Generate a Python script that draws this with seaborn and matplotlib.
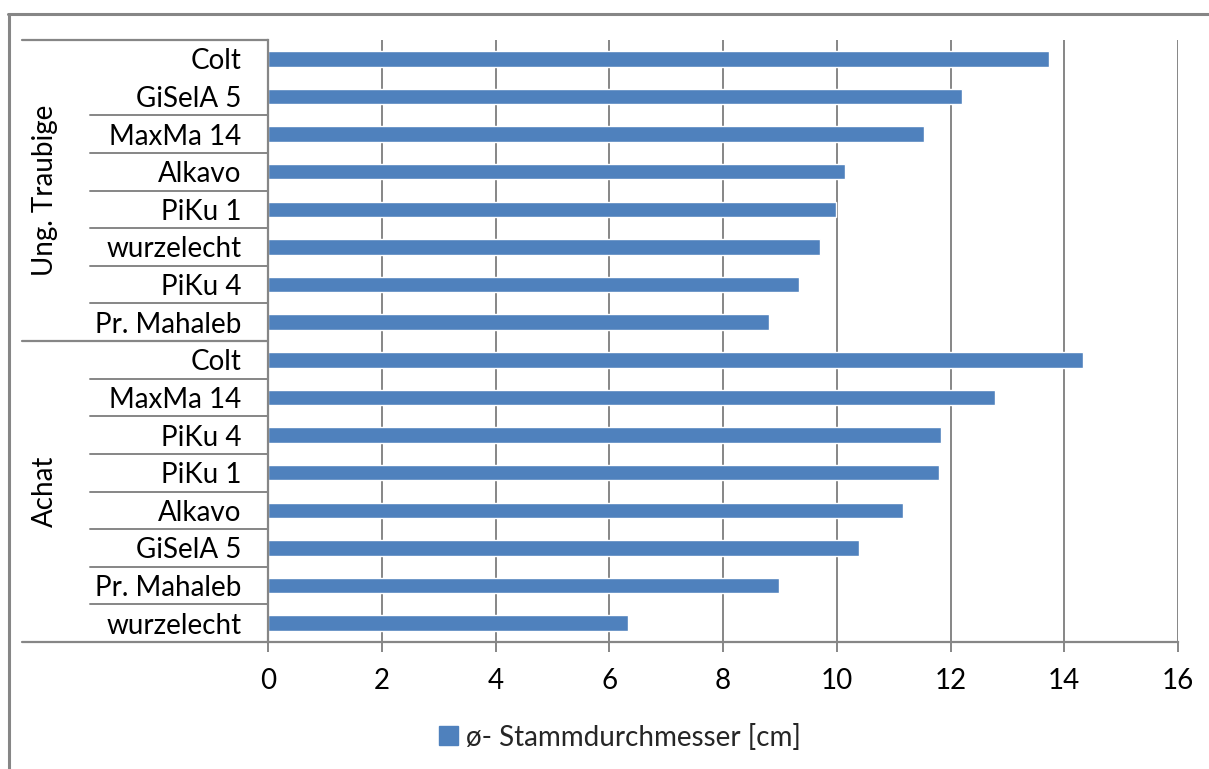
import matplotlib
matplotlib.use('Agg')
import matplotlib.pyplot as plt
import matplotlib.transforms as mtransforms
from matplotlib.lines import Line2D
from matplotlib.patches import Patch
import seaborn as sns
import pandas as pd

# ---- data (top to bottom) ----
groups = ["Ung. Traubige"] * 8 + ["Achat"] * 8
rootstocks = ["Colt", "GiSelA 5", "MaxMa 14", "Alkavo", "PiKu 1", "wurzelecht", "PiKu 4", "Pr. Mahaleb",
              "Colt", "MaxMa 14", "PiKu 4", "PiKu 1", "Alkavo", "GiSelA 5", "Pr. Mahaleb", "wurzelecht"]
values = [13.74, 12.21, 11.54, 10.15, 9.98, 9.70, 9.33, 8.80,
          14.33, 12.79, 11.83, 11.79, 11.17, 10.39, 8.98, 6.33]
group_names = ["Ung. Traubige", "Achat"]
legend_label = "ø- Stammdurchmesser [cm]"
xticks = [0, 2, 4, 6, 8, 10, 12, 14, 16]

BAR = "#4F81BD"
GRAY = "#868686"

sns.set_theme(style="white")
plt.rcParams['font.family'] = ['Lato', 'DejaVu Sans']
FS = 20

W, H = 1209, 769
fig = plt.figure(figsize=(W / 100, H / 100), dpi=100)
fig.patch.set_facecolor("white")

def fx(px):
    return px / W

def fy(py):
    return 1 - py / H

ax = fig.add_axes([fx(268), fy(642), fx(1178) - fx(268), fy(40) - fy(642)])

df = pd.DataFrame({
    "key": [f"{g}|{r}" for g, r in zip(groups, rootstocks)],
    "value": values,
})
sns.barplot(data=df, x="value", y="key", orient="h", color=BAR, saturation=1,
            width=0.41, ax=ax, order=list(df["key"]))

ax.set_xlim(0, 16)
ax.set_ylim(len(values) - 0.5, -0.5)
ax.set_xlabel("")
ax.set_ylabel("")
ax.set_xticks(xticks)
ax.set_xticklabels([str(t) for t in xticks], fontsize=FS, color="black")
ax.set_yticks(range(len(values)))
ax.set_yticklabels(rootstocks, fontsize=FS, color="black")
ax.set_axisbelow(True)
ax.xaxis.grid(True, color=GRAY, lw=1.4)
ax.yaxis.grid(False)
for s in ["top", "right"]:
    ax.spines[s].set_visible(False)
for s in ["left", "bottom"]:
    ax.spines[s].set_color(GRAY)
    ax.spines[s].set_linewidth(1.6)
ax.tick_params(axis="x", direction="out", length=7.5, width=1.4, color=GRAY, pad=11, bottom=True)
ax.tick_params(axis="y", length=0, pad=19)
ax.set_facecolor("white")

# category separator lines
bt = mtransforms.blended_transform_factory(fig.transFigure, ax.transData)
n = len(values)
for i in range(n - 1):
    b = i + 0.5
    if groups[i] != groups[i + 1]:
        continue
    if i == 0:
        continue  # no separator drawn between the first two rows in the reference
    ax.add_line(Line2D([fx(90), fx(268)], [b, b], transform=bt, color=GRAY, lw=1.4, clip_on=False))
# group boundary lines
bounds = [-0.5] + [i + 0.5 for i in range(n - 1) if groups[i] != groups[i + 1]] + [n - 0.5]
for b in bounds:
    ax.add_line(Line2D([fx(22), fx(268)], [b, b], transform=bt, color=GRAY, lw=1.6, clip_on=False))

# group labels
for g in group_names:
    idx = [i for i, gg in enumerate(groups) if gg == g]
    mid = (idx[0] + idx[-1]) / 2
    ax.text(fx(45), mid, g, transform=bt, rotation=90, ha="center", va="center",
            fontsize=FS, color="black", clip_on=False)

# outer frame (top and left edges)
fig.add_artist(Line2D([fx(8), 1], [fy(14), fy(14)], transform=fig.transFigure, color=GRAY, lw=2.2))
fig.add_artist(Line2D([fx(9), fx(9)], [fy(14), 0], transform=fig.transFigure, color=GRAY, lw=2.2))

# legend
fig.legend(handles=[Patch(facecolor=BAR, edgecolor=BAR)], labels=[legend_label], loc="center",
           bbox_to_anchor=(fx(620), fy(737)), frameon=False, fontsize=FS,
           handlelength=0.68, handleheight=0.68, handletextpad=0.3)

fig.savefig("out.png", dpi=100, facecolor="white")
